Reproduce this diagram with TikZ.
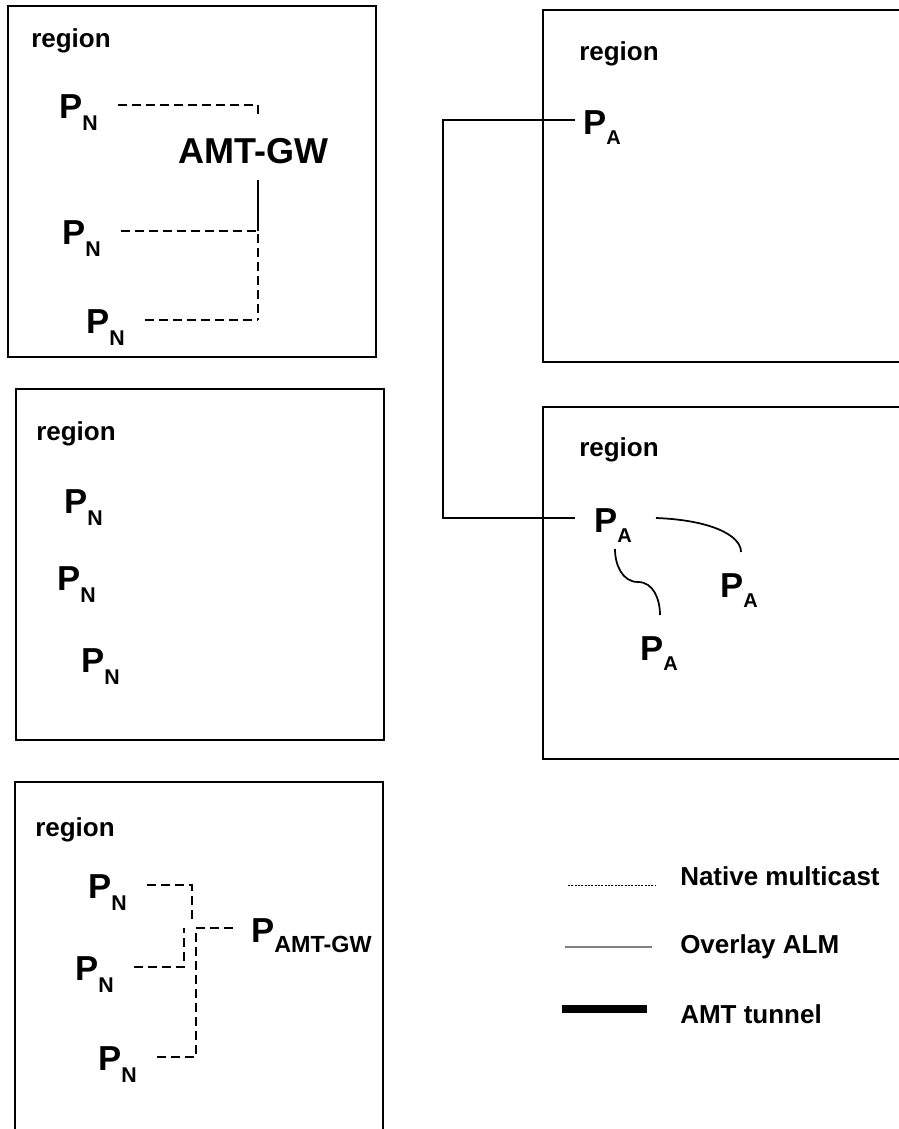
\documentclass[tikz,border=0pt]{standalone}
\usepackage{fontspec}
\setmainfont{Liberation Sans}
\usepackage{xcolor}
\usepackage{tikz}

\newcommand{\lowsub}[3]{\raisebox{-#1pt}{\fontsize{#2pt}{#2pt}\selectfont #3}}
\newcommand{\pn}{P\lowsub{9}{16}{N}}
\newcommand{\pa}{P\lowsub{8}{15}{A}}

\begin{document}
\begin{tikzpicture}[x=0.75pt, y=-0.75pt,
    region/.style={draw, line width=1.5pt},
    lbl/.style={font=\fontsize{19.5pt}{22pt}\selectfont\bfseries, inner sep=0, anchor=base west},
    peer/.style={font=\fontsize{26pt}{30pt}\selectfont\bfseries, inner sep=0, anchor=base west},
    native/.style={line width=1.4pt, dash pattern=on 6.75pt off 3.75pt},
    alm/.style={line width=1.3pt}]
    \useasboundingbox (0,0) rectangle (899,1129);
    % regions
    \draw[region] (8,6) rectangle (376,357);
    \draw[region] (16,389) rectangle (384,740);
    \draw[region] (15,782) rectangle (383,1150);
    \draw[region] (543,10) rectangle (920,362);
    \draw[region] (543,407) rectangle (920,759);
    \node[lbl] at (31,47) {region};
    \node[lbl] at (36,440) {region};
    \node[lbl] at (35,836) {region};
    \node[lbl] at (579,60) {region};
    \node[lbl] at (579,456) {region};

    % region 1: native peers behind AMT gateway
    \node[peer] (n1) at (59,118) {\pn};
    \node[peer] (n2) at (62,244) {\pn};
    \node[peer] (n3) at (86,333) {\pn};
    \node[peer, font=\fontsize{27pt}{30pt}\selectfont\bfseries] (gw) at (178,163) {AMT-GW};
    \coordinate (k1) at (258,115);
    \coordinate (k2) at (258,231);
    \coordinate (k3) at (258,320);
    \coordinate (gwfoot) at (258,180);
    \draw[native] ([shift={(20,-13)}]n1.base east) -| (k1);
    \draw[native] ([shift={(20,-13)}]n2.base east) -- (k2) -- (k3);
    \draw[native] ([shift={(20,-13)}]n3.base east) -- (k3);
    \draw[alm] (gwfoot) -- (k2);

    % region 2
    \node[peer] (m1) at (64,513) {\pn};
    \node[peer] (m2) at (57,590) {\pn};
    \node[peer] (m3) at (81,672) {\pn};

    % region 3: native peers with P_AMT-GW
    \node[peer] (s1) at (88,898) {\pn};
    \node[peer] (s2) at (75,980) {\pn};
    \node[peer] (s3) at (98,1070) {\pn};
    \node[peer] (sg) at (251,942) {P\lowsub{7.5}{17.5}{AMT-GW}};
    \coordinate (j1) at (192,922);
    \coordinate (j2) at (193,928);
    \coordinate (j3) at (184,928);
    \coordinate (j4) at (196,930);
    \draw[native] ([shift={(20,-13)}]s1.base east) -| (j1);
    \draw[native] ([shift={(-18,-14)}]sg.base west) -- (j2);
    \draw[native] ([shift={(20,-13)}]s2.base east) -| (j3);
    \draw[native] ([shift={(20,-13)}]s3.base east) -| (j4);

    % ALM peers
    \node[peer] (a0) at (583,134) {\pa};
    \node[peer] (a1) at (594,532) {\pa};
    \node[peer] (a2) at (720,597) {\pa};
    \node[peer] (a3) at (640,660) {\pa};
    \draw[alm] ([shift={(-8,-14)}]a0.base west) -- ++(-132,0) |- ([shift={(-19,-14)}]a1.base west);
    \draw[alm] ([shift={(62,-14)}]a1.base west) .. controls (710,520) and (741,535) .. ([shift={(21,-45)}]a2.base west);
    \draw[alm] ([shift={(21,17)}]a1.base west) to[out=-90, in=180] (638,582) to[out=0, in=90] ([shift={(20,-45)}]a3.base west);

    % legend
    \coordinate (l1) at (568,885);
    \coordinate (l2) at (565,947);
    \coordinate (l3) at (562,1009);
    \draw[line width=0.75pt, dash pattern=on 1.5pt off 1pt] (l1) -- ++(87,0);
    \draw[line width=1.2pt, gray] (l2) -- ++(87,0);
    \draw[line width=6pt] (l3) -- ++(85,0);
    \node[lbl] (t1) at (680,885) {Native multicast};
    \node[lbl] (t2) at (680,953) {Overlay ALM};
    \node[lbl] (t3) at (680,1023) {AMT tunnel};
\end{tikzpicture}
\end{document}
